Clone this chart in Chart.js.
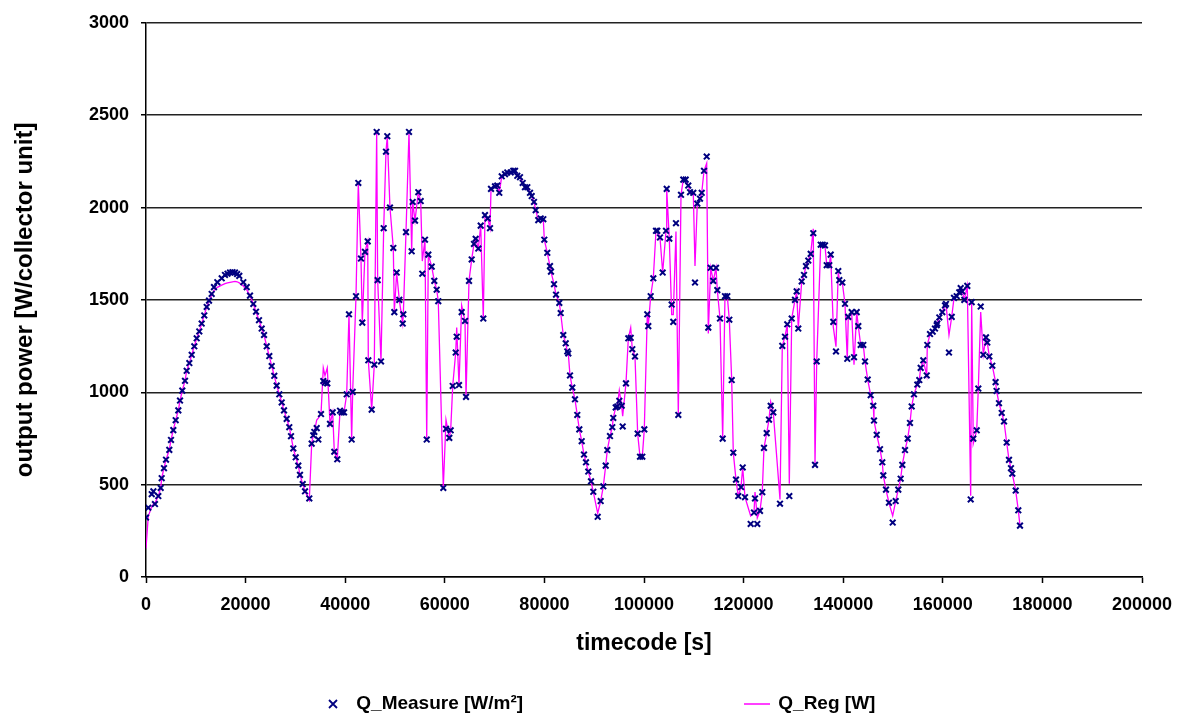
<!DOCTYPE html>
<html>
<head>
<meta charset="utf-8">
<script src="https://cdn.jsdelivr.net/npm/chart.js@4.4.1/dist/chart.umd.min.js"></script>
<style>
  body { margin: 0; background: #fff; font-family: "Liberation Sans", Arial, sans-serif; }
  #wrap { position: relative; width: 1186px; height: 716px; }
  .leg { position: absolute; top: 689px; font-weight: bold; font-size: 19px; color: #000; white-space: nowrap; line-height: 28px; }
  .leg svg { vertical-align: middle; }
</style>
</head>
<body>
<div id="wrap">
  <canvas id="powerChart"></canvas>
  <div class="leg" style="left:328px;">
    <svg width="10" height="10"><path d="M1 1 L9 9 M9 1 L1 9" stroke="#000080" stroke-width="1.8"/></svg>
    <span style="margin-left:13px;">Q_Measure [W/m²]</span>
  </div>
  <div class="leg" style="left:744px;">
    <svg width="26" height="6"><line x1="0" y1="3" x2="26" y2="3" stroke="#ff00ff" stroke-width="1.5"/></svg>
    <span style="margin-left:3px;">Q_Reg [W]</span>
  </div>
</div>
<script>
var timeSec = [
  0, 460, 1150, 1480, 1800, 2470, 2950, 3150, 3610, 4020,
  4680, 5020, 5480, 5960, 6490, 6830, 7290, 7830, 8170, 8700,
  9180, 9700, 10180, 10700, 11180, 11700, 12190, 12650, 13190, 13650,
  14320, 15200, 15860, 16370, 16870, 17370, 17870, 18300, 18730, 19540,
  20220, 20880, 21550, 22090, 22690, 23230, 23700, 24240, 24760, 25240,
  25760, 26240, 26770, 27250, 27710, 28250, 28770, 29120, 29580, 30060,
  30580, 30920, 31470, 31930, 32790, 33270, 33590, 33800, 34280, 34600,
  35140, 35600, 35940, 36400, 36950, 37490, 37810, 38410, 38960, 39300,
  39760, 40300, 40760, 41300, 41500, 42170, 42630, 43170, 43430, 43970,
  44520, 44640, 45320, 45840, 46320, 46520, 47190, 47730, 48190, 48450,
  48990, 49660, 49860, 50340, 50860, 51550, 51670, 52210, 52810, 53350,
  53550, 54020, 54680, 55160, 55480, 56020, 56370, 56690, 57370, 57890,
  58370, 58690, 59700, 60240, 60900, 61180, 61590, 62190, 62390, 62850,
  63390, 64060, 64260, 64860, 65400, 65860, 66200, 66730, 67210, 67730,
  68070, 68610, 69080, 69280, 70080, 70540, 70940, 71430, 72090, 72550,
  73230, 73750, 74100, 74560, 75100, 75640, 76100, 76570, 77110, 77450,
  77910, 78250, 78770, 79260, 79780, 79980, 80580, 81120, 81320, 81930,
  82330, 82990, 83270, 83790, 84280, 84600, 84800, 85140, 85600, 86140,
  86600, 87010, 87490, 87950, 88350, 88810, 89360, 89820, 90700, 91300,
  91830, 92310, 92630, 93170, 93630, 93830, 94320, 94640, 95040, 95520,
  95720, 96380, 96850, 97330, 97650, 98190, 98730, 99200, 99660, 100060,
  100660, 100860, 101340, 101870, 102410, 102670, 103210, 103750, 104420, 104560,
  105080, 105560, 105880, 106420, 106890, 107430, 107890, 108370, 108890, 109240,
  109900, 110240, 110700, 111240, 111590, 112050, 112590, 112910, 113390, 113910,
  114460, 114720, 115260, 115800, 116260, 116730, 117130, 117610, 117930, 118470,
  118930, 119480, 119820, 120280, 121420, 122090, 122290, 122750, 123290, 123750,
  124090, 124640, 125100, 125440, 125960, 127310, 127770, 128310, 128770, 129180,
  129660, 130320, 130660, 130980, 131670, 132130, 132530, 132990, 133470, 133990,
  134340, 134680, 135480, 135880, 136340, 136690, 137210, 137490, 138010, 138550,
  139010, 139220, 139820, 140360, 140820, 141020, 141700, 142170, 142710, 143030,
  143510, 144030, 144380, 144920, 145520, 146040, 146180, 146730, 147390, 147850,
  148050, 148590, 149190, 149940, 150540, 151060, 151540, 151870, 152410, 152950,
  153410, 153750, 154210, 154880, 155280, 155560, 156080, 156770, 156890, 157430,
  157970, 158430, 158770, 158890, 159300, 159900, 160440, 160640, 161240, 161790,
  162250, 162790, 163310, 163590, 163910, 164320, 164920, 165600, 165800, 166120,
  166810, 167130, 167610, 168130, 168670, 168930, 169340, 169940, 170600, 170800,
  171280, 171830, 172290, 172830, 173290, 173690, 173950, 174640, 175160, 175500
];

var qMeasure = [
  322, 375, 448, 464, 395, 438, 482, 535, 589, 635,
  688, 742, 795, 849, 902, 955, 1009, 1062, 1116, 1158,
  1203, 1249, 1292, 1329, 1372, 1416, 1462, 1496, 1532, 1569,
  1596, 1617, 1635, 1642, 1648, 1650, 1648, 1640, 1630, 1596,
  1569, 1523, 1478, 1436, 1390, 1345, 1310, 1249, 1196, 1142,
  1089, 1036, 989, 945, 902, 856, 811, 762, 696, 648,
  603, 553, 503, 464, 425, 722, 767, 785, 806, 744,
  882, 1061, 1052, 1048, 829, 891, 678, 637, 900, 891,
  891, 989, 1422, 744, 1002, 1520, 2133, 1724, 1377, 1760,
  1817, 1173, 906, 1149, 2409, 1607, 1167, 1888, 2302, 2386,
  2000, 1781, 1434, 1648, 1500, 1372, 1422, 1867, 2409, 1763,
  2030, 1929, 2083, 2035, 1642, 1826, 744, 1745, 1680, 1603,
  1555, 1493, 482, 802, 753, 794, 1034, 1215, 1301, 1039,
  1434, 1386, 975, 1603, 1719, 1803, 1831, 1778, 1902, 1399,
  1959, 1941, 1888, 2101, 2115, 2119, 2080, 2169, 2181, 2190,
  2190, 2199, 2199, 2172, 2164, 2133, 2110, 2110, 2080, 2062,
  2030, 1986, 1932, 1941, 1937, 1826, 1755, 1683, 1653, 1585,
  1528, 1484, 1429, 1310, 1265, 1221, 1210, 1091, 1025, 962,
  877, 799, 735, 663, 621, 571, 518, 461, 326, 411,
  491, 603, 687, 763, 811, 861, 918, 923, 954, 927,
  815, 1048, 1292, 1295, 1233, 1194, 776, 651, 651, 799,
  1422, 1358, 1520, 1617, 1874, 1874, 1838, 1648, 1874, 2101,
  1831, 1475, 1381, 1915, 877, 2069, 2151, 2151, 2119, 2083,
  2080, 1594, 2021, 2048, 2080, 2199, 2276, 1350, 1674, 1603,
  1674, 1553, 1399, 749, 1520, 1520, 1393, 1066, 673, 527,
  438, 487, 593, 432, 287, 349, 425, 287, 358, 459,
  699, 779, 852, 927, 891, 397, 1251, 1301, 1368, 438,
  1399, 1500, 1546, 1345, 1600, 1635, 1683, 1713, 1749, 1861,
  607, 1167, 1799, 1799, 1795, 1688, 1688, 1745, 1381, 1221,
  1656, 1607, 1594, 1479, 1181, 1408, 1434, 1190, 1434, 1358,
  1256, 1256, 1167, 1069, 984, 927, 847, 770, 692, 621,
  550, 473, 402, 295, 411, 473, 532, 607, 687, 749,
  834, 923, 989, 1042, 1066, 1132, 1173, 1091, 1256, 1315,
  1328, 1345, 1363, 1372, 1405, 1434, 1470, 1478, 1215, 1408,
  1511, 1520, 1541, 1564, 1546, 1500, 1576, 420, 1488, 749,
  794, 1020, 1464, 1203, 1297, 1269, 1194, 1144, 1055, 1007,
  941, 888, 842, 728, 634, 589, 559, 468, 361, 278
];

var qReg = [
  155, 330, 380, 395, 400, 438, 482, 535, 589, 635,
  688, 742, 795, 849, 902, 955, 1009, 1062, 1116, 1158,
  1203, 1249, 1292, 1329, 1372, 1416, 1462, 1496, 1525, 1550,
  1568, 1580, 1588, 1592, 1595, 1598, 1600, 1598, 1592, 1575,
  1555, 1523, 1478, 1436, 1390, 1345, 1310, 1249, 1196, 1142,
  1089, 1036, 989, 945, 902, 856, 811, 762, 696, 648,
  603, 553, 503, 464, 416, 722, 767, 785, 850, 860,
  882, 1132, 1090, 1132, 829, 891, 678, 637, 900, 891,
  891, 989, 1422, 744, 1002, 1520, 2133, 1724, 1377, 1760,
  1817, 1173, 906, 1149, 2409, 1607, 1167, 1888, 2302, 2386,
  2000, 1781, 1434, 1648, 1500, 1372, 1422, 1867, 2409, 1763,
  2030, 1929, 2083, 2035, 1710, 1826, 744, 1745, 1680, 1603,
  1555, 1493, 482, 850, 753, 794, 1034, 1215, 1350, 1039,
  1470, 1386, 975, 1603, 1719, 1803, 1831, 1778, 1902, 1399,
  1959, 1941, 1888, 2101, 2115, 2119, 2080, 2169, 2181, 2190,
  2190, 2199, 2199, 2172, 2164, 2133, 2110, 2110, 2080, 2062,
  2030, 1986, 1932, 1941, 1937, 1826, 1755, 1683, 1653, 1585,
  1528, 1484, 1429, 1310, 1265, 1221, 1210, 1091, 1025, 962,
  877, 799, 735, 663, 621, 571, 518, 461, 345, 411,
  491, 603, 687, 763, 811, 861, 918, 923, 1010, 927,
  870, 1048, 1292, 1350, 1233, 1194, 776, 651, 651, 799,
  1422, 1358, 1520, 1617, 1874, 1874, 1838, 1648, 1874, 2101,
  1831, 1420, 1420, 1870, 877, 2069, 2151, 2151, 2119, 2083,
  2080, 1683, 2021, 2048, 2080, 2199, 2240, 1318, 1674, 1603,
  1674, 1553, 1399, 749, 1520, 1520, 1393, 1066, 673, 527,
  438, 487, 593, 432, 330, 349, 460, 320, 358, 459,
  699, 779, 852, 948, 891, 420, 1251, 1301, 1368, 505,
  1399, 1500, 1546, 1345, 1600, 1635, 1683, 1713, 1749, 1885,
  615, 1167, 1799, 1799, 1795, 1688, 1688, 1745, 1354, 1247,
  1656, 1607, 1594, 1479, 1176, 1408, 1434, 1149, 1434, 1358,
  1256, 1256, 1167, 1069, 984, 927, 847, 770, 692, 621,
  550, 473, 402, 331, 411, 473, 532, 607, 687, 749,
  834, 923, 989, 1042, 1066, 1132, 1173, 1091, 1256, 1315,
  1328, 1345, 1363, 1372, 1405, 1434, 1470, 1478, 1310, 1408,
  1511, 1520, 1541, 1564, 1546, 1500, 1576, 440, 1488, 722,
  794, 1020, 1434, 1203, 1297, 1269, 1194, 1144, 1055, 1007,
  941, 888, 842, 728, 634, 589, 559, 468, 361, 278
];

var yTicks = [0, 500, 1000, 1500, 2000, 2500, 3000];

function toPoints(values) {
  return timeSec.map(function (t, i) { return { x: t, y: values[i] }; });
}

var fontFamily = '"Liberation Sans", Arial, sans-serif';
var tickFont = { family: fontFamily, size: 18, weight: 'bold' };

var ctx = document.getElementById('powerChart').getContext('2d');
new Chart(ctx, {
  type: 'scatter',
  data: {
    datasets: [
      {
        label: 'Q_Measure [W/m²]',
        data: toPoints(qMeasure),
        pointStyle: 'crossRot',
        pointRadius: 4,
        pointBorderWidth: 2,
        borderColor: '#000080',
        backgroundColor: '#000080',
        showLine: false
      },
      {
        label: 'Q_Reg [W]',
        data: toPoints(qReg),
        showLine: true,
        pointRadius: 0,
        borderColor: '#ff00ff',
        borderWidth: 1.3,
        tension: 0
      }
    ]
  },
  options: {
    responsive: true,
    maintainAspectRatio: false,
    animation: false,
    layout: { padding: { top: 15, right: 44, bottom: 59, left: 0 } },
    plugins: {
      legend: { display: false },
      tooltip: { enabled: false }
    },
    scales: {
      x: {
        type: 'linear',
        min: 0,
        max: 200000,
        ticks: {
          stepSize: 20000,
          font: tickFont,
          color: '#000',
          padding: 11,
          maxRotation: 0,
          autoSkip: false,
          callback: function (v) { return String(v); }
        },
        grid: { drawOnChartArea: false, drawTicks: true, tickLength: 6, tickColor: '#000', tickWidth: 1.5 },
        border: { color: '#000', width: 1.5 },
        title: { display: true, text: 'timecode [s]', font: { family: fontFamily, size: 23, weight: 'bold' }, color: '#000', padding: { top: 0, bottom: 0 } },
        afterFit: function (scale) { scale.height = 80; }
      },
      y: {
        min: 0,
        max: 3000,
        afterBuildTicks: function (scale) {
          scale.ticks = yTicks.map(function (v) { return { value: v }; });
        },
        ticks: {
          font: tickFont,
          color: '#000',
          padding: 12,
          callback: function (v) { return String(v); }
        },
        grid: { color: '#222', lineWidth: 1.5, tickLength: 5, tickColor: '#000', tickWidth: 1.5 },
        border: { color: '#000', width: 1.5 },
        title: { display: true, text: 'output power [W/collector unit]', font: { family: fontFamily, size: 24, weight: 'bold' }, color: '#000', padding: { top: 11 } },
        afterFit: function (scale) { scale.width = 146; }
      }
    }
  }
});
</script>
</body>
</html>
